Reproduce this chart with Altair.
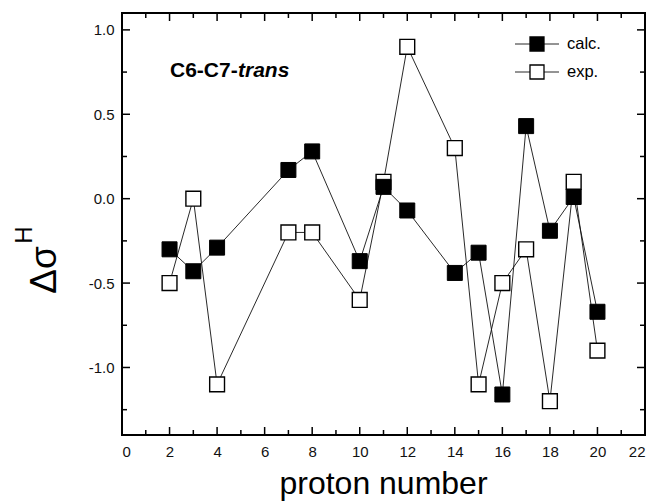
import altair as alt
import pandas as pd

# ---- data ----
proton = [2, 3, 4, 7, 8, 10, 11, 12, 14, 15, 16, 17, 18, 19, 20]
calc = [-0.30, -0.43, -0.29, 0.17, 0.28, -0.37, 0.07, -0.07, -0.44, -0.32, -1.16, 0.43, -0.19, 0.01, -0.67]
expv = [-0.50, 0.00, -1.10, -0.20, -0.20, -0.60, 0.10, 0.90, 0.30, -1.10, -0.50, -0.30, -1.20, 0.10, -0.90]
x_major = [0, 2, 4, 6, 8, 10, 12, 14, 16, 18, 20, 22]
x_minor = [1, 3, 5, 7, 9, 11, 13, 15, 17, 19, 21]
y_major = [-1.0, -0.5, 0.0, 0.5, 1.0]
y_minor = [-1.25, -0.75, -0.25, 0.25, 0.75]
series_names = ["calc.", "exp."]

W, H = 523, 422
FONT = "Liberation Sans"

df = pd.DataFrame({
    "proton": proton * 2,
    "value": calc + expv,
    "series": [series_names[0]] * len(proton) + [series_names[1]] * len(proton),
})
df_calc = df[df.series == "calc."]
df_exp = df[df.series == "exp."]

xs = alt.Scale(domain=[0, 22], nice=False, zero=False)
ys = alt.Scale(domain=[-1.4, 1.1], nice=False, zero=False)
xaxis = alt.Axis(values=x_major, ticks=False, domain=False, grid=False, labelFontSize=15,
                 labelPadding=9, title=None, format="d", labelColor="#111", labelFont=FONT)
yaxis = alt.Axis(values=y_major, ticks=False, domain=False, grid=False, labelFontSize=15,
                 labelPadding=8, title=None, format=".1f", labelColor="#111", labelFont=FONT,
                 labelExpr="replace(datum.label, '\u2212', '-')")

X = alt.X("proton:Q", scale=xs, axis=xaxis)
Y = alt.Y("value:Q", scale=ys, axis=yaxis)

lines = alt.Chart(df).mark_line(color="#111", strokeWidth=0.9).encode(x=X, y=Y, detail="series:N")
pts_exp = alt.Chart(df_exp).mark_point(shape="square", size=220, filled=True, fill="white",
                                       stroke="black", strokeWidth=1.4, opacity=1).encode(x=X, y=Y)
pts_calc = alt.Chart(df_calc).mark_point(shape="square", size=225, filled=True, fill="black",
                                         stroke="black", strokeWidth=1, opacity=1).encode(x=X, y=Y)


def xticks(vals, y0, y1):
    return alt.Chart(pd.DataFrame({"proton": vals})).mark_rule(color="black", strokeWidth=1.5).encode(
        x=X, y=alt.value(y0), y2=alt.value(y1))


def yticks(vals, x0, x1):
    return alt.Chart(pd.DataFrame({"value": vals})).mark_rule(color="black", strokeWidth=1.5).encode(
        y=Y, x=alt.value(x0), x2=alt.value(x1))


ticks = [
    xticks(x_major, H, H - 8), xticks(x_minor, H, H - 5),
    xticks(x_major, 0, 8), xticks(x_minor, 0, 5),
    yticks(y_major, 0, 8), yticks(y_minor, 0, 5),
    yticks(y_major, W, W - 8), yticks(y_minor, W, W - 5),
]

one = pd.DataFrame({"k": [0]})


def txt(text, x, y, size, **kw):
    return alt.Chart(one).mark_text(text=text, font=FONT, fontSize=size, color="black", **kw).encode(
        x=alt.value(x), y=alt.value(y))


# legend
leg = []
for label, yy, fill in [(series_names[0], 31, "black"), (series_names[1], 59, "white")]:
    leg.append(alt.Chart(one).mark_rule(color="#111", strokeWidth=0.9).encode(
        x=alt.value(393), x2=alt.value(437), y=alt.value(yy)))
    leg.append(alt.Chart(one).mark_point(shape="square", size=196, filled=True, fill=fill,
                                         stroke="black", strokeWidth=1.3, opacity=1).encode(
        x=alt.value(415), y=alt.value(yy)))
    leg.append(txt(label, 445, yy, 16.5, align="left", baseline="middle"))

annot = [
    txt("C6-C7-", 48, 58, 21, align="left", baseline="middle", fontWeight="bold"),
    txt("trans", 116, 58, 21, align="left", baseline="middle", fontWeight="bold", fontStyle="italic"),
]

titles = [
    txt("proton number", W / 2, 481, 32, align="center", baseline="alphabetic"),
    txt("Δσ", -66, 257, 37, align="center", baseline="alphabetic", angle=270),
    txt("H", -90, 222, 24, align="center", baseline="alphabetic", angle=270),
]

chart = alt.layer(lines, pts_exp, pts_calc, *ticks, *leg, *annot, *titles).properties(
    width=W, height=H,
    autosize=alt.AutoSizeParams(type="none"),
    padding={"left": 122, "top": 13, "right": 9, "bottom": 69},
    background="white",
).configure_view(stroke="black", strokeWidth=2)

chart.save("out.html", embed_options={"renderer": "svg", "actions": False})
